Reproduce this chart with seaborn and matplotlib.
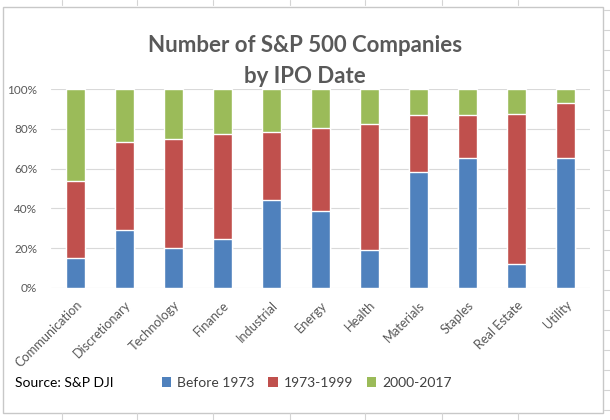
import matplotlib
matplotlib.use("Agg")
import matplotlib.pyplot as plt
import seaborn as sns
import pandas as pd
import numpy as np
from matplotlib.patches import Rectangle, Patch
from matplotlib.lines import Line2D

categories = ["Communication", "Discretionary", "Technology", "Finance", "Industrial",
              "Energy", "Health", "Materials", "Staples", "Real Estate", "Utility"]
before_1973 = [15.1, 29.1, 20.2, 24.5, 44.2, 38.8, 19.2, 58.5, 65.5, 12.1, 65.5]
y1973_1999 = [38.8, 44.5, 54.7, 53.1, 34.4, 41.8, 63.5, 28.7, 21.7, 75.6, 27.7]
y2000_2017 = [46.1, 26.4, 25.1, 22.4, 21.4, 19.4, 17.3, 12.8, 12.8, 12.3, 6.8]
series_names = ["Before 1973", "1973-1999", "2000-2017"]
colors = ["#4F81BD", "#C0504D", "#9BBB59"]
yticks = [0, 20, 40, 60, 80, 100]

sns.set_theme(style="white")
plt.rcParams['font.family'] = ['Lato', 'DejaVu Sans']

df = pd.DataFrame({"cat": categories, "a": before_1973, "b": y1973_1999, "c": y2000_2017})
df["ab"] = df["a"] + df["b"]
df["abc"] = df["ab"] + df["c"]

W, H = 610, 420
fig = plt.figure(figsize=(W / 100, H / 100), dpi=100)
fig.patch.set_facecolor("white")

# spreadsheet grid hints and chart border
for x in [62, 137, 213, 290, 365, 442, 518]:
    fig.add_artist(Line2D([x / W, x / W], [1, 1 - 5 / H], color="#d4d4d4", lw=0.8))
    fig.add_artist(Line2D([x / W, x / W], [0, 7 / H], color="#d4d4d4", lw=0.8))
for y in range(10, 420, 20):
    fig.add_artist(Line2D([604 / W, 1], [1 - y / H, 1 - y / H], color="#d4d4d4", lw=0.8))
fig.add_artist(Rectangle((3 / W, 7 / H), 600 / W, 406 / H, transform=fig.transFigure,
                         fill=False, edgecolor="#c8c8c8", lw=1.0))

ax = fig.add_axes([51 / W, 1 - 287.7 / H, (590 - 51) / W, (287.7 - 89.3) / H])
bw = 0.39
sns.barplot(data=df, x="cat", y="abc", color=colors[2], width=bw, ax=ax, saturation=1, zorder=2)
sns.barplot(data=df, x="cat", y="ab", color=colors[1], width=bw, ax=ax, saturation=1, zorder=3)
sns.barplot(data=df, x="cat", y="a", color=colors[0], width=bw, ax=ax, saturation=1, zorder=4)

ax.set_xlim(-0.5, len(categories) - 0.5)
ax.set_ylim(0, 100)
ax.set_yticks(yticks)
ax.set_yticklabels([f"{v}%" for v in yticks])
ax.yaxis.grid(True, color="#d9d9d9", lw=0.8, zorder=0)
ax.set_axisbelow(True)
for s in ax.spines.values():
    s.set_visible(False)
ax.set_xlabel("")
ax.set_ylabel("")
ax.tick_params(axis="y", length=0, pad=10, labelsize=8.5, labelcolor="#595959")
ax.tick_params(axis="x", length=0, pad=8, labelsize=9.2, labelcolor="#595959")
plt.setp(ax.get_xticklabels(), rotation=45, ha="right", rotation_mode="anchor")

fig.text(0.5, 1 - 61 / H, "Number of S&P 500 Companies\nby IPO Date", ha="center", va="center",
         fontsize=16, fontweight="bold", color="#595959", linespacing=1.55)

fig.text(15 / W, 1 - 383 / H, "Source: S&P DJI", ha="left", va="center", fontsize=10, color="#000000")
handles = [Patch(facecolor=c, edgecolor="none") for c in colors]
fig.legend(handles, series_names, loc="center left", bbox_to_anchor=(156 / W, 1 - 383 / H),
           ncol=3, frameon=False, fontsize=10, handlelength=0.7, handleheight=0.7,
           handletextpad=0.4, columnspacing=1.0, labelcolor="#404040", borderaxespad=0)

fig.savefig("out.png", dpi=100, facecolor="white")
